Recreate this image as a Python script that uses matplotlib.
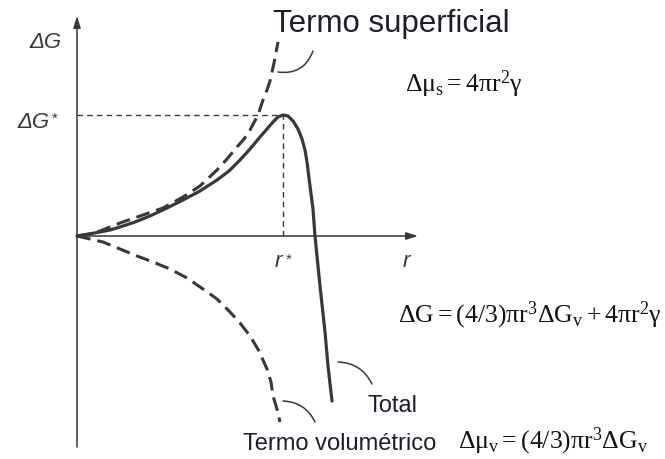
import matplotlib
matplotlib.use("Agg")
import matplotlib.pyplot as plt

plt.rcParams["font.family"] = ["Liberation Sans", "DejaVu Sans"]
plt.rcParams["mathtext.fontset"] = "custom"
plt.rcParams["mathtext.rm"] = "Liberation Serif"
plt.rcParams["mathtext.it"] = "Liberation Serif"
plt.rcParams["mathtext.bf"] = "Liberation Serif:bold"
plt.rcParams["lines.scale_dashes"] = False

# Surface term (positive, r^2 growth)
r_surf = [0, 12, 23, 43, 63, 86, 106, 123, 140, 150, 160, 167, 173, 181, 186,
          190, 193, 197, 201]
g_surf = [0, 2, 5, 13, 20, 28, 39, 50, 66, 77, 89, 97, 106, 121, 136,
          146, 155, 173, 194]

# Volume term (negative, r^3 growth)
r_vol = [0, 13, 26, 43, 60, 76, 93, 110, 126, 140, 153, 163, 173, 182, 190,
         194, 196, 200, 203]
g_vol = [0, -3, -6, -13, -20, -26, -33, -42, -53, -63, -76, -87, -100, -115,
         -133, -146, -160, -173, -186]

# Total free energy change
r_tot = [0, 12, 23, 33, 43, 58, 73, 90, 106, 123, 140, 152, 163, 173, 183,
         190, 196, 201, 206, 211, 216, 221, 225, 228, 230, 233, 236, 238,
         243, 248, 251, 255]
g_tot = [0, 2, 4, 6, 9, 14, 20, 28, 36, 45, 56, 65, 76, 87, 99,
         107, 114, 119, 121, 120, 115, 107, 97, 86, 74, 50, 27, 0,
         -50, -96, -130, -165]

# Critical radius and barrier
r_star = r_tot[g_tot.index(max(g_tot))]
g_star = max(g_tot)

line_col = "#383838"
text_col = "#1d1d2b"

fig = plt.figure(figsize=(6.65, 4.6), dpi=100)
ax = fig.add_axes([0, 0, 1, 1])
ax.set_xlim(-77, 588)
ax.set_ylim(-223, 237)
ax.axis("off")

# Axes with arrowheads
arrow_kw = dict(arrowstyle="-|>,head_length=0.7,head_width=0.22",
                color=line_col, lw=1.1, shrinkA=0, shrinkB=0)
ax.annotate("", xy=(0, 220), xytext=(0, -211), arrowprops=arrow_kw)
ax.annotate("", xy=(341, 0), xytext=(0, 0), arrowprops=arrow_kw)

# Barrier guides
ax.plot([0, r_star], [g_star, g_star], color=line_col, lw=1.0,
        linestyle=(0, (4, 3)))
ax.plot([r_star, r_star], [0, g_star], color=line_col, lw=1.0,
        linestyle=(0, (4, 3)))

# Curves
dash = (0, (10, 5))
ax.plot(r_surf, g_surf, color=line_col, lw=2.2, linestyle=dash,
        dash_capstyle="butt", dash_joinstyle="round")
ax.plot(r_vol, g_vol, color=line_col, lw=2.2, linestyle=dash,
        dash_capstyle="butt", dash_joinstyle="round")
ax.plot(r_tot, g_tot, color=line_col, lw=2.3, solid_joinstyle="round",
        solid_capstyle="round")

# Leader arcs from labels to curves
leader_kw = dict(arrowstyle="-", color=line_col, lw=1.1, shrinkA=0, shrinkB=0)
ax.annotate("", xy=(236, 185), xytext=(201, 164),
            arrowprops=dict(leader_kw, connectionstyle="arc3,rad=0.4"))
ax.annotate("", xy=(295, -148), xytext=(261, -126),
            arrowprops=dict(leader_kw, connectionstyle="arc3,rad=-0.3"))
ax.annotate("", xy=(238, -186), xytext=(206, -165),
            arrowprops=dict(leader_kw, connectionstyle="arc3,rad=-0.3"))

# Axis labels
ax.text(-15, 189, "ΔG", fontsize=16, style="italic", color=line_col,
        ha="right", va="baseline")
ax.text(-27, 109, "ΔG", fontsize=16, style="italic", color=line_col,
        ha="right", va="baseline")
ax.text(-22, 114, "*", fontsize=11, color=line_col, ha="center",
        va="baseline")
ax.text(r_star - 5, -30, "r", fontsize=16, style="italic",
        color=line_col, ha="center", va="baseline")
ax.text(r_star + 6, -27, "*", fontsize=11, color=line_col, ha="center",
        va="baseline")
ax.text(329, -30, "r", fontsize=16, style="italic", color=line_col,
        ha="center", va="baseline")

# Term labels
ax.text(196, 205, "Termo superficial", fontsize=22.5, color=text_col,
        ha="left", va="baseline")
ax.text(290, -175, "Total", fontsize=17, color=text_col, ha="left",
        va="baseline")
ax.text(166, -213, "Termo volumétrico", fontsize=17, color=text_col,
        ha="left", va="baseline")

# Formulas
formula_kw = dict(fontsize=18.5, color="#111111", ha="left", va="baseline")
ax.text(328, 145, r"$\Delta\mu_{\mathrm{s}} = 4\pi\mathrm{r}^{2}\gamma$",
        **formula_kw)
ax.text(321, -85,
        r"$\Delta\mathrm{G} = (4/3)\pi\mathrm{r}^{3}\Delta\mathrm{G}_{\mathrm{v}}"
        r" + 4\pi\mathrm{r}^{2}\gamma$",
        **formula_kw)
ax.text(381, -211,
        r"$\Delta\mu_{\mathrm{v}} = (4/3)\pi\mathrm{r}^{3}\Delta\mathrm{G}_{\mathrm{v}}$",
        **formula_kw)

fig.savefig("out.png", dpi=100, facecolor="white")
